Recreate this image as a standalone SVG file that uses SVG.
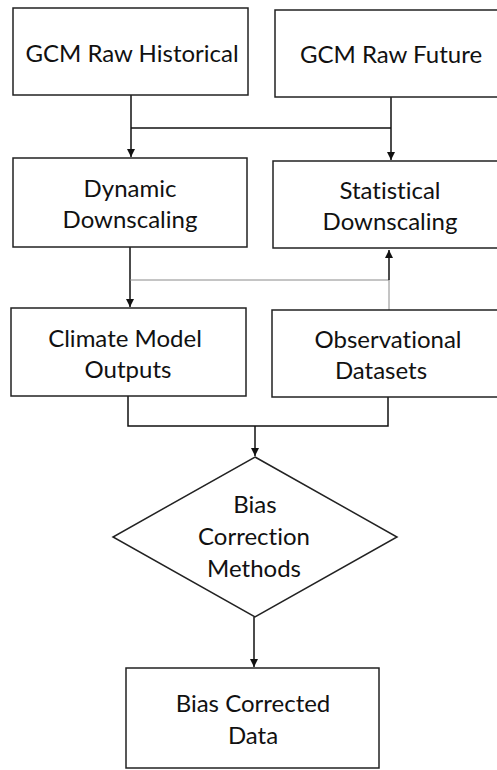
<svg xmlns="http://www.w3.org/2000/svg" width="497" height="770" viewBox="0 0 497 770">
<defs>
<style>
.box{fill:#fff;stroke:#222;stroke-width:1.5}
.t{font-family:Lato,"Open Sans",sans-serif;font-size:24px;fill:#111;text-anchor:middle;font-variant-ligatures:none}
.c{fill:none;stroke:#111;stroke-width:1.5}
.g{fill:none;stroke:#8a8a8a;stroke-width:1}
</style>
<marker id="ah" viewBox="0 0 8 8" refX="8" refY="4" markerWidth="8" markerHeight="8" markerUnits="userSpaceOnUse" orient="auto">
<path d="M0,0 L8,4 L0,8 z" fill="#111"/>
</marker>
</defs>
<rect width="497" height="770" fill="#fff"/>
<g id="connectors">
<path class="c" d="M131,95 V157" marker-end="url(#ah)"/>
<path class="c" d="M391,97 V160" marker-end="url(#ah)"/>
<path class="c" d="M131,128 H391"/>
<path class="c" d="M130,247 V307" marker-end="url(#ah)"/>
<path class="g" d="M130,280 H389 M389,310 V280"/>
<path class="c" d="M389,280 V250" marker-end="url(#ah)"/>
<path class="c" d="M128,396 V426 H388 V397"/>
<path class="c" d="M255,426 V456" marker-end="url(#ah)"/>
<path class="c" d="M254,617 V667" marker-end="url(#ah)"/>
</g>
<g id="gcm-hist">
<rect class="box" x="13" y="8" width="235" height="87"/>
<text class="t" x="132" y="62">GCM Raw Historical</text>
</g>
<g id="gcm-future">
<rect class="box" x="275" y="10" width="240" height="87"/>
<text class="t" x="391" y="63">GCM Raw Future</text>
</g>
<g id="dynamic">
<rect class="box" x="13" y="158" width="234" height="89"/>
<text class="t" x="130" y="197">Dynamic</text>
<text class="t" x="130" y="228">Downscaling</text>
</g>
<g id="statistical">
<rect class="box" x="273" y="161" width="240" height="87"/>
<text class="t" x="390" y="199">Statistical</text>
<text class="t" x="390" y="230">Downscaling</text>
</g>
<g id="climate">
<rect class="box" x="11" y="308" width="235" height="88"/>
<text class="t" x="125" y="347">Climate Model</text>
<text class="t" x="128" y="378">Outputs</text>
</g>
<g id="observational">
<rect class="box" x="272" y="310" width="240" height="87"/>
<text class="t" x="388" y="348">Observational</text>
<text class="t" x="381" y="379">Datasets</text>
</g>
<g id="bias-methods">
<path class="box" d="M255,457 L397,537 L255,617 L113,537 Z"/>
<text class="t" x="255" y="513">Bias</text>
<text class="t" x="254" y="545">Correction</text>
<text class="t" x="254" y="577">Methods</text>
</g>
<g id="bias-data">
<rect class="box" x="126" y="668" width="253" height="100"/>
<text class="t" x="253" y="712">Bias Corrected</text>
<text class="t" x="253" y="744">Data</text>
</g>
</svg>
